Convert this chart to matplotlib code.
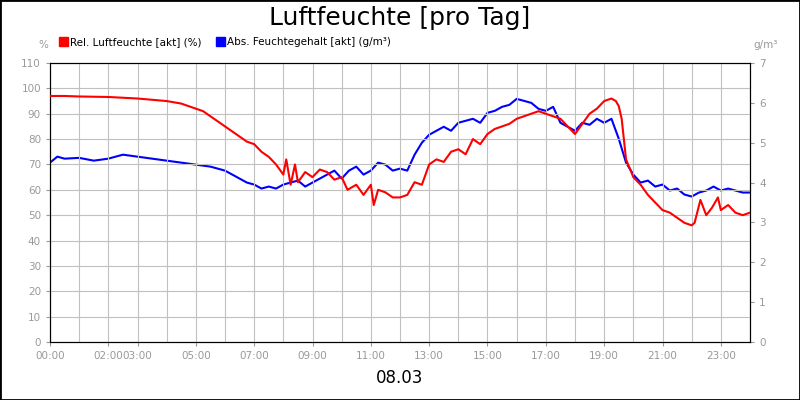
import matplotlib
matplotlib.use("Agg")
import matplotlib.pyplot as plt
from matplotlib.patches import Rectangle

hours_rel = [0,0.5,1,1.5,2,2.5,3,3.5,4,4.5,5,5.25,5.5,5.75,6,6.25,6.5,6.75,7,7.25,7.5,7.75,8,8.1,8.25,8.4,8.5,8.75,9,9.25,9.5,9.75,10,10.2,10.5,10.75,11,11.1,11.25,11.5,11.75,12,12.25,12.5,12.75,13,13.25,13.5,13.75,14,14.25,14.5,14.75,15,15.25,15.5,15.75,16,16.25,16.5,16.75,17,17.25,17.5,17.75,18,18.25,18.5,18.75,19,19.25,19.4,19.5,19.6,19.75,20,20.25,20.5,20.75,21,21.25,21.5,21.75,22,22.1,22.3,22.5,22.7,22.9,23,23.25,23.5,23.75,24]
rel = [97,97,96.8,96.7,96.6,96.3,96,95.5,95,94,92,91,89,87,85,83,81,79,78,75,73,70,66,72,62,70,63,67,65,68,67,64,65,60,62,58,62,54,60,59,57,57,58,63,62,70,72,71,75,76,74,80,78,82,84,85,86,88,89,90,91,90,89,88,85,82,86,90,92,95,96,95,93,88,72,65,62,58,55,52,51,49,47,46,47,56,50,53,57,52,54,51,50,51]

hours_abs = [0,0.25,0.5,1,1.5,2,2.5,3,3.5,4,4.5,5,5.5,6,6.25,6.5,6.75,7,7.25,7.5,7.75,8,8.25,8.5,8.75,9,9.25,9.5,9.75,10,10.25,10.5,10.75,11,11.25,11.5,11.75,12,12.25,12.5,12.75,13,13.25,13.5,13.75,14,14.25,14.5,14.75,15,15.25,15.5,15.75,16,16.25,16.5,16.75,17,17.25,17.5,17.75,18,18.25,18.5,18.75,19,19.25,19.5,19.75,20,20.25,20.5,20.75,21,21.25,21.5,21.75,22,22.25,22.5,22.75,23,23.25,23.5,23.75,24]
ab = [4.5,4.65,4.6,4.62,4.55,4.6,4.7,4.65,4.6,4.55,4.5,4.45,4.4,4.3,4.2,4.1,4.0,3.95,3.85,3.9,3.85,3.95,4.0,4.05,3.9,4.0,4.1,4.2,4.3,4.1,4.3,4.4,4.2,4.3,4.5,4.45,4.3,4.35,4.3,4.7,5.0,5.2,5.3,5.4,5.3,5.5,5.55,5.6,5.5,5.75,5.8,5.9,5.95,6.1,6.05,6.0,5.85,5.8,5.9,5.5,5.4,5.3,5.5,5.45,5.6,5.5,5.6,5.1,4.5,4.2,4.0,4.05,3.9,3.95,3.8,3.85,3.7,3.65,3.75,3.8,3.9,3.8,3.85,3.8,3.75,3.75]

tick_hours = [0,2,3,5,7,9,11,13,15,17,19,21,23]
tick_labels = ["00:00","02:00","03:00","05:00","07:00","09:00","11:00","13:00","15:00","17:00","19:00","21:00","23:00"]

fig = plt.figure(figsize=(8,4), dpi=100)
fig.patches.append(Rectangle((0,0),1,1,transform=fig.transFigure,fill=False,edgecolor='black',lw=2))
ax = fig.add_axes([0.0625,0.145,0.875,0.6975])
ax2 = ax.twinx()
ax.plot(hours_rel, rel, color='#ff0000', lw=1.5, zorder=3)
ax2.plot(hours_abs, ab, color='#0000ff', lw=1.5)
ax.set_zorder(ax2.get_zorder()+1); ax.patch.set_visible(False)
ax.set_xlim(0,24); ax.set_ylim(0,110); ax2.set_ylim(0,7)
ax.set_yticks(range(0,111,10)); ax2.set_yticks(range(0,8))
ax.set_xticks(tick_hours); ax.set_xticklabels(tick_labels)
ax.set_xticks(range(25), minor=True)
ax.grid(True, which='both', axis='x', color='#c0c0c0', lw=0.8)
ax.grid(True, which='major', axis='y', color='#c0c0c0', lw=0.8)
for a in (ax, ax2):
    a.tick_params(labelsize=7.5, colors='#999999', length=3)
    a.tick_params(which='minor', length=0)
    for s in a.spines.values(): s.set_color('black')
fig.text(0.5,0.955,"Luftfeuchte [pro Tag]",ha='center',va='center',fontsize=18)
fig.text(0.5,0.055,"08.03",ha='center',va='center',fontsize=12)
fig.text(0.054,0.88,"%",ha='center',fontsize=7.5,color='#999999')
fig.text(0.957,0.88,"g/m³",ha='center',fontsize=7.5,color='#999999')
fig.patches.append(Rectangle((0.074,0.885),0.011,0.022,transform=fig.transFigure,color='#ff0000'))
fig.text(0.088,0.896,"Rel. Luftfeuchte [akt] (%)",va='center',fontsize=7.5)
fig.patches.append(Rectangle((0.27,0.885),0.011,0.022,transform=fig.transFigure,color='#0000ff'))
fig.text(0.284,0.896,"Abs. Feuchtegehalt [akt] (g/m³)",va='center',fontsize=7.5)
fig.savefig("out.png", dpi=100)
